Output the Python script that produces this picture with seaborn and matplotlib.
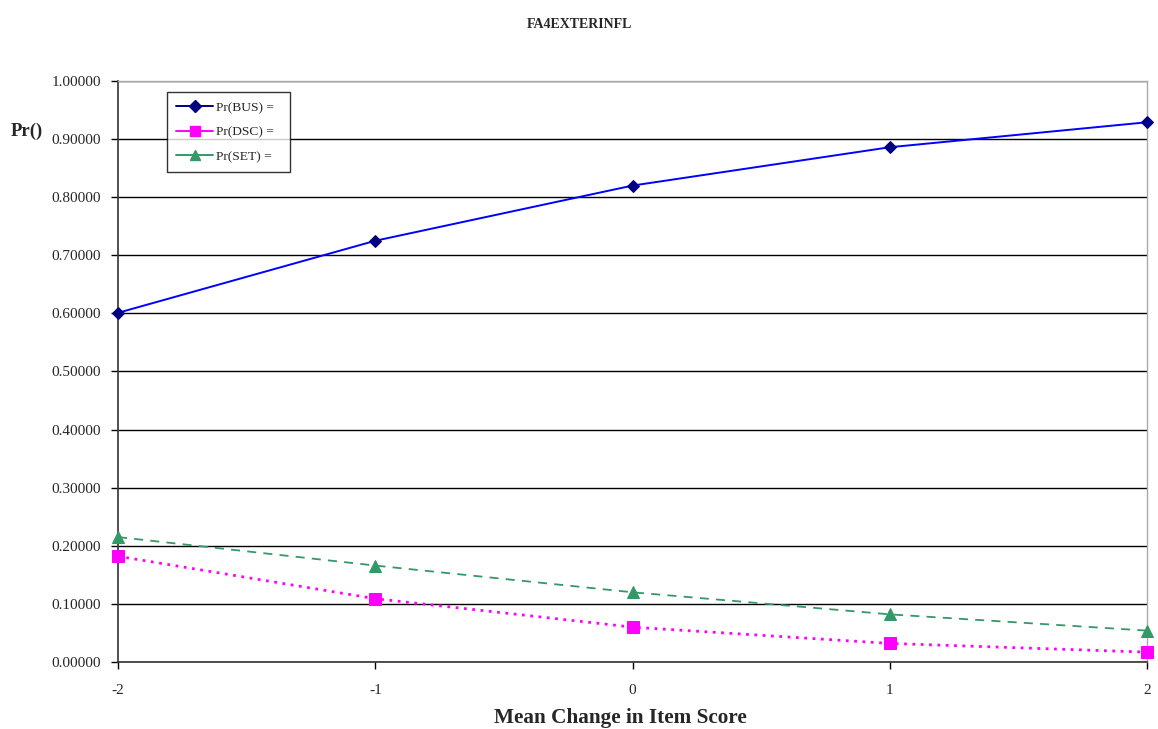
import matplotlib
matplotlib.use("Agg")
import matplotlib.pyplot as plt
import seaborn as sns
import pandas as pd
from matplotlib.lines import Line2D
from matplotlib.ticker import FormatStrFormatter, MultipleLocator

# Mean change in item score and predicted probabilities
mean_change = [-2, -1, 0, 1, 2]
pr_bus = [0.601, 0.725, 0.820, 0.886, 0.929]
pr_dsc = [0.182, 0.109, 0.060, 0.032, 0.017]
pr_set = [0.215, 0.166, 0.120, 0.082, 0.054]
series_labels = ["Pr(BUS) =", "Pr(DSC) =", "Pr(SET) ="]

sns.set_theme(style="white")
plt.rcParams["font.family"] = ["Liberation Serif", "DejaVu Serif"]
plt.rcParams["axes.unicode_minus"] = False

df = pd.DataFrame({
    "x": mean_change * 3,
    "p": pr_bus + pr_dsc + pr_set,
    "series": [series_labels[0]] * 5 + [series_labels[1]] * 5 + [series_labels[2]] * 5,
})

fig = plt.figure(figsize=(11.58, 7.29), dpi=100)
ax = fig.add_axes([118 / 1158, 1 - 662 / 729, (1147 - 118) / 1158, (662 - 81) / 729])

styles = {
    series_labels[0]: dict(color="#0000FF", legend_color="#000080", marker="D", mfc="#000080",
                           ms=6, ls="-", lw=1.4),
    series_labels[1]: dict(color="#FF00FF", legend_color="#FF00FF", marker="s", mfc="#FF00FF",
                           ms=8, ls=(0, (1, 2)), lw=2.0),
    series_labels[2]: dict(color="#339966", legend_color="#339966", marker="^", mfc="#339966",
                           ms=8, ls=(0, (5, 4)), lw=1.3),
}

for name in series_labels:
    st = styles[name]
    sns.lineplot(data=df[df["series"] == name], x="x", y="p", ax=ax, legend=False,
                 color=st["color"], marker=st["marker"], markerfacecolor=st["mfc"],
                 markeredgecolor=st["mfc"], markersize=st["ms"], linestyle=st["ls"],
                 linewidth=st["lw"], clip_on=False, zorder=3)

ax.set_xlim(-2, 2)
ax.set_ylim(0, 1)
ax.xaxis.set_major_locator(MultipleLocator(1))
ax.yaxis.set_major_locator(MultipleLocator(0.1))
ax.yaxis.set_major_formatter(FormatStrFormatter("%.5f"))
ax.grid(axis="y", color="black", lw=1.0)
ax.set_axisbelow(True)

for side in ["left", "bottom"]:
    ax.spines[side].set_color("#333333")
    ax.spines[side].set_linewidth(1.2)
for side in ["top", "right"]:
    ax.spines[side].set_color("#aaaaaa")
    ax.spines[side].set_linewidth(1.0)

ax.tick_params(axis="both", which="major", direction="out", length=5, width=1,
               color="black", labelsize=11, left=True, bottom=True)
ax.tick_params(axis="y", pad=7)
ax.tick_params(axis="x", pad=11)

ax.set_xlabel("")
ax.set_ylabel("")
fig.text(620 / 1158, 1 - 718 / 729, "Mean Change in Item Score", fontsize=15.3,
         fontweight="bold", ha="center", va="center")
fig.text(27 / 1158, 1 - 131 / 729, "Pr()", fontsize=13.5, fontweight="bold",
         ha="center", va="center")
fig.text(0.5, 1 - 25 / 729, "FA4EXTERINFL", fontsize=10, fontweight="bold",
         ha="center", va="center")

# legend entries drawn with solid lines
handles = [Line2D([], [], color=styles[n]["legend_color"], marker=styles[n]["marker"],
                  markerfacecolor=styles[n]["mfc"], markeredgecolor=styles[n]["mfc"],
                  markersize=styles[n]["ms"] * 0.95, linestyle="-", linewidth=1.4)
           for n in series_labels]
leg = ax.legend(handles, [s + "\u2002" for s in series_labels], loc="upper left",
                bbox_to_anchor=(49 / 1029, 1 - 11 / 581),
                frameon=True, fancybox=False, edgecolor="black", fontsize=9.7,
                handlelength=2.7, borderpad=0.7, labelspacing=0.9, handletextpad=0.25,
                borderaxespad=0)
leg.get_frame().set_linewidth(1.0)
leg.get_frame().set_facecolor("white")

fig.savefig("out.png", dpi=100, facecolor="white")
